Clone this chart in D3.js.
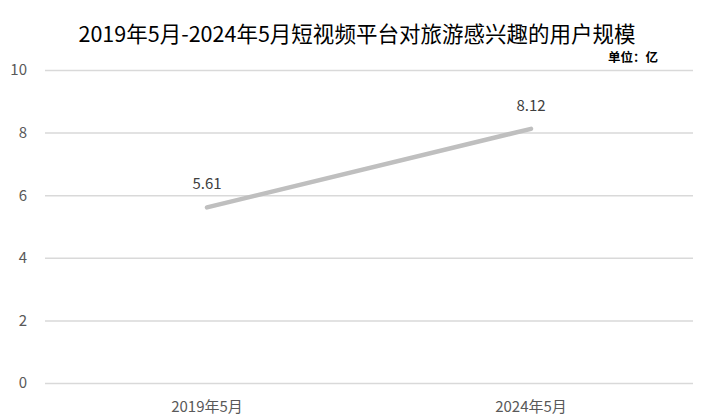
<!DOCTYPE html>
<html><head><meta charset="utf-8">
<script src="https://cdn.jsdelivr.net/npm/d3@7/dist/d3.min.js"></script>
<style>body{margin:0;background:#fff;} svg{display:block;}</style>
</head><body><svg id="c" width="711" height="417"></svg>
<script>
const categories = ["2019年5月", "2024年5月"];
const values = [5.61, 8.12];
const yTicks = [0, 2, 4, 6, 8, 10];
const title = "2019年5月-2024年5月短视频平台对旅游感兴趣的用户规模";
const unitLabel = "单位：亿";

const W = 711, H = 417;
const m = {left: 45, right: 18, top: 70, bottom: 34};
const svg = d3.select("#c");
const font = "'Liberation Sans Narrow','Noto Sans CJK SC',sans-serif";

const x = d3.scaleBand().domain(categories).range([m.left, W - m.right]);
const y = d3.scaleLinear().domain([0, 10]).range([H - m.bottom, m.top]);

svg.append("text").attr("x", 357).attr("y", 42).attr("text-anchor", "middle")
  .attr("font-family", "'Noto Sans CJK SC',sans-serif").attr("font-size", 21.5).attr("fill", "#000")
  .attr("textLength", 557).attr("lengthAdjust", "spacingAndGlyphs")
  .text(title);
svg.append("text").attr("x", 658).attr("y", 62).attr("text-anchor", "end")
  .attr("font-family", "'Noto Sans CJK SC',sans-serif").attr("font-size", 12.5).attr("font-weight", "bold").attr("fill", "#000")
  .text(unitLabel);

const yAxis = d3.axisLeft(y).tickValues(yTicks).tickSize(-(W - m.left - m.right)).tickPadding(18);
const gy = svg.append("g").attr("transform", `translate(${m.left},0)`).call(yAxis);
gy.select(".domain").remove();
gy.selectAll(".tick line").attr("stroke", "#D9D9D9").attr("stroke-width", 1.5);
gy.selectAll(".tick text").attr("fill", "#595959").attr("font-size", 15).attr("font-family", font);

const xAxis = d3.axisBottom(x).tickSize(0).tickPadding(18);
const gx = svg.append("g").attr("transform", `translate(0,${y(0)})`).call(xAxis);
gx.select(".domain").remove();
gx.selectAll(".tick text").attr("fill", "#595959").attr("font-size", 15).attr("font-family", font);

const cx = d => x(d) + x.bandwidth() / 2;
const line = d3.line().x((d, i) => cx(categories[i])).y(d => y(d));
svg.append("path").datum(values).attr("d", line).attr("fill", "none")
  .attr("stroke", "#BFBFBF").attr("stroke-width", 4.5).attr("stroke-linecap", "round");

svg.selectAll(".lbl").data(values).enter().append("text")
  .attr("x", (d, i) => cx(categories[i])).attr("y", d => y(d) - 18)
  .attr("text-anchor", "middle").attr("font-family", font).attr("font-size", 15).attr("fill", "#404040")
  .text(d => d.toFixed(2));
</script></body></html>
